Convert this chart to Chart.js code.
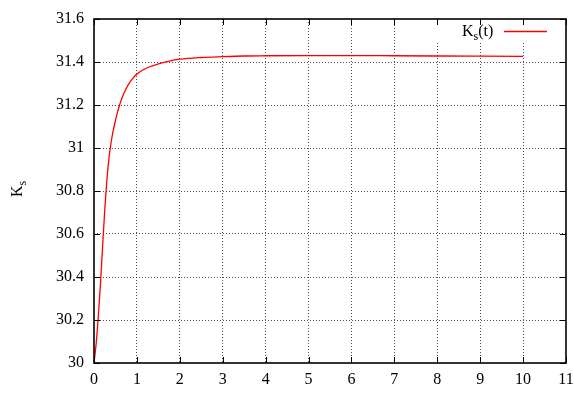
<!DOCTYPE html>
<html>
<head>
<meta charset="utf-8">
<script src="https://cdn.jsdelivr.net/npm/chart.js@4.4.0/dist/chart.umd.min.js"></script>
<style>
    html, body { margin: 0; padding: 0; background: #fff; }
    #wrap { width: 574px; height: 398px; position: relative; }
</style>
</head>
<body>
<div id="wrap"><canvas id="chart"></canvas></div>
<script>
// time samples and K_s values
const timeValues = [0, 0.05, 0.1, 0.15, 0.2, 0.25, 0.3, 0.35, 0.4, 0.45, 0.5, 0.55, 0.6, 0.65, 0.7, 0.8, 0.9, 1.0,
    1.15, 1.3, 1.5, 1.75, 2.0, 2.5, 3, 3.5, 4, 5, 6, 7, 8, 9, 10];
const ksValues = [30, 30.09, 30.215, 30.365, 30.54, 30.71, 30.85, 30.955, 31.028, 31.083, 31.128, 31.168, 31.202, 31.231, 31.256, 31.295, 31.323, 31.344,
    31.364, 31.378, 31.391, 31.404, 31.413, 31.421, 31.425, 31.428, 31.429, 31.43, 31.43, 31.429, 31.428, 31.427, 31.426];

const xTickValues = [0, 1, 2, 3, 4, 5, 6, 7, 8, 9, 10, 11];
const xTickLabels = ['0', '1', '2', '3', '4', '5', '6', '7', '8', '9', '10', '11'];
const yTickValues = [30, 30.2, 30.4, 30.6, 30.8, 31, 31.2, 31.4, 31.6];
const yTickLabels = ['30', '30.2', '30.4', '30.6', '30.8', '31', '31.2', '31.4', '31.6'];

const seriesName = 'K';
const seriesSub = 's';
const seriesTail = '(t)';

const FONT = '"Liberation Serif", "DejaVu Serif", serif';
Chart.defaults.font.family = FONT;
Chart.defaults.font.size = 16;
Chart.defaults.color = '#000';

// frame, inward tick marks, key and y title (gnuplot look)
const gnuplotFrame = {
    id: 'gnuplotFrame',
    afterDatasetsDraw(chart) {
        const ctx = chart.ctx;
        const area = chart.chartArea;
        const xs = chart.scales.x;
        const ys = chart.scales.y;
        const tick = 6;

        ctx.save();

        // key box (opaque)
        ctx.fillStyle = '#fff';
        ctx.fillRect(432, area.top + 1, area.right - 433, 21);

        ctx.strokeStyle = '#000';
        ctx.lineWidth = 1;
        ctx.beginPath();
        xTickValues.forEach(v => {
            const px = Math.round(xs.getPixelForValue(v)) + 0.5;
            ctx.moveTo(px, area.bottom); ctx.lineTo(px, area.bottom - tick);
            ctx.moveTo(px, area.top); ctx.lineTo(px, area.top + tick);
        });
        yTickValues.forEach(v => {
            const py = Math.round(ys.getPixelForValue(v)) + 0.5;
            ctx.moveTo(area.left, py); ctx.lineTo(area.left + tick, py);
            ctx.moveTo(area.right, py); ctx.lineTo(area.right - tick, py);
        });
        ctx.stroke();

        ctx.lineWidth = 1.6;
        ctx.strokeRect(area.left, area.top, area.right - area.left, area.bottom - area.top);

        // key
        ctx.fillStyle = '#000';
        ctx.textBaseline = 'alphabetic';
        ctx.font = '16px ' + FONT;
        let kx = 462;
        const ky = 36;
        ctx.fillText(seriesName, kx, ky);
        kx += ctx.measureText(seriesName).width;
        ctx.font = '12px ' + FONT;
        ctx.fillText(seriesSub, kx, ky + 4);
        kx += ctx.measureText(seriesSub).width;
        ctx.font = '16px ' + FONT;
        ctx.fillText(seriesTail, kx, ky);

        ctx.strokeStyle = '#ff0000';
        ctx.lineWidth = 1.3;
        ctx.beginPath();
        ctx.moveTo(504, 31.5);
        ctx.lineTo(547, 31.5);
        ctx.stroke();

        // y axis title
        ctx.translate(22, 197);
        ctx.rotate(-Math.PI / 2);
        ctx.fillStyle = '#000';
        ctx.font = '16px ' + FONT;
        ctx.fillText(seriesName, 0, 0);
        const w = ctx.measureText(seriesName).width;
        ctx.font = '12px ' + FONT;
        ctx.fillText(seriesSub, w, 4);

        ctx.restore();
    }
};

const points = timeValues.map((t, i) => ({ x: t, y: ksValues[i] }));

new Chart(document.getElementById('chart'), {
    type: 'line',
    data: {
        datasets: [{
            label: 'Ks(t)',
            data: points,
            borderColor: '#ff0000',
            borderWidth: 1.3,
            pointRadius: 0,
            cubicInterpolationMode: 'monotone',
            fill: false
        }]
    },
    options: {
        responsive: true,
        maintainAspectRatio: false,
        animation: false,
        events: [],
        layout: { padding: { left: 0, right: 8, top: 19, bottom: 0 } },
        plugins: {
            legend: { display: false },
            tooltip: { enabled: false }
        },
        scales: {
            x: {
                type: 'linear',
                min: 0,
                max: 11,
                afterBuildTicks: s => { s.ticks = xTickValues.map(v => ({ value: v })); },
                afterFit: s => { s.height = 35; s.paddingLeft = 0; s.paddingRight = 0; },
                ticks: {
                    padding: 7,
                    maxRotation: 0,
                    autoSkip: false,
                    color: '#000',
                    font: { family: FONT, size: 16 },
                    callback: (v, i) => xTickLabels[i]
                },
                grid: {
                    drawTicks: false,
                    color: ctx => (ctx.tick && (ctx.tick.value === 0 || ctx.tick.value === 11)) ? 'rgba(0,0,0,0)' : 'rgba(0,0,0,0.7)',
                    lineWidth: 1
                },
                border: { display: false, dash: [1, 2] }
            },
            y: {
                type: 'linear',
                min: 30,
                max: 31.6,
                afterBuildTicks: s => { s.ticks = yTickValues.map(v => ({ value: v })); },
                afterFit: s => { s.width = 94; s.paddingTop = 0; s.paddingBottom = 0; },
                ticks: {
                    padding: 10,
                    autoSkip: false,
                    color: '#000',
                    font: { family: FONT, size: 16 },
                    callback: (v, i) => yTickLabels[i]
                },
                grid: {
                    drawTicks: false,
                    color: ctx => (ctx.tick && (ctx.tick.value === 30 || ctx.tick.value === 31.6)) ? 'rgba(0,0,0,0)' : 'rgba(0,0,0,0.7)',
                    lineWidth: 1
                },
                border: { display: false, dash: [1, 2] }
            }
        }
    },
    plugins: [gnuplotFrame]
});
</script>
</body>
</html>
